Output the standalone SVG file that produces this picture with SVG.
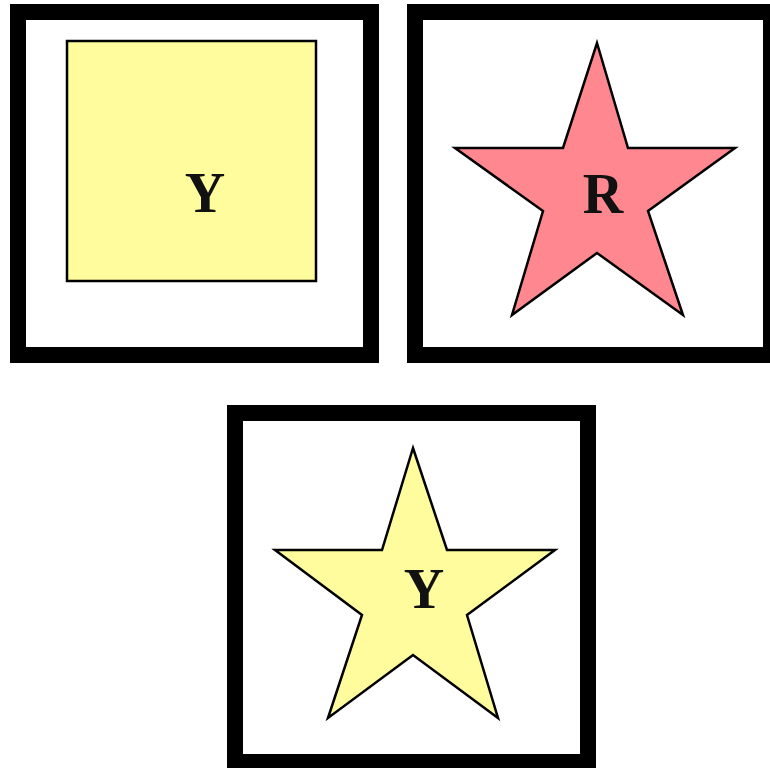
<svg xmlns="http://www.w3.org/2000/svg" width="770" height="768" viewBox="0 0 770 768">
<style>
.frame{fill:#fff;stroke:#000;stroke-width:16}
.shape{stroke:#000;stroke-width:2.5;stroke-linejoin:miter}
.yellow{fill:#fefc9c}
.pink{fill:#ff8890}
.lbl{font-family:"Liberation Serif","Times New Roman",serif;font-weight:bold;font-size:56px;fill:#111;text-anchor:middle}
</style>
<rect width="770" height="768" fill="#fff"/>
<g id="card1">
<rect class="frame" x="18" y="12" width="353" height="343"/>
<rect class="shape yellow" x="67" y="41" width="249" height="240"/>
<text class="lbl" x="205" y="212">Y</text>
</g>
<g id="card2">
<rect class="frame" x="415" y="12" width="356" height="343"/>
<polygon class="shape pink" points="597,43 628,148 735,148 648,211 683,315 597,253 512,315 543,211 455,148 563,148"/>
<text class="lbl" x="603" y="213">R</text>
</g>
<g id="card3">
<rect class="frame" x="235" y="413" width="353" height="349"/>
<polygon class="shape yellow" points="413,448 447,550 555,550 467,615 498,718 413,655 328,718 362,615 275,550 382,550"/>
<text class="lbl" x="424" y="608">Y</text>
</g>
<g id="connectors"/>
</svg>
